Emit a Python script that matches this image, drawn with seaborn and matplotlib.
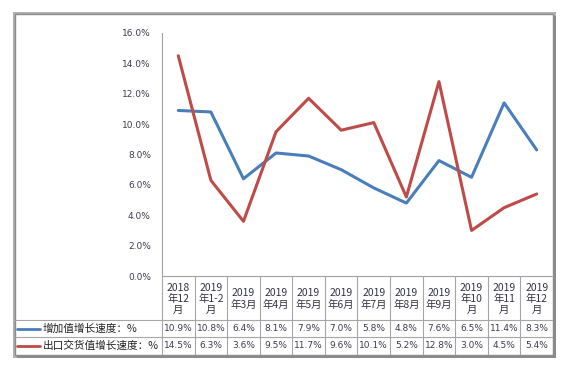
import numpy as np
import pandas as pd
import matplotlib
matplotlib.use("Agg")
import matplotlib.pyplot as plt
import seaborn as sns
from matplotlib.patches import Rectangle

months = ["2018\n年12\n月", "2019\n年1-2\n月", "2019\n年3月", "2019\n年4月", "2019\n年5月",
          "2019\n年6月", "2019\n年7月", "2019\n年8月", "2019\n年9月", "2019\n年10\n月",
          "2019\n年11\n月", "2019\n年12\n月"]
added_value = [10.9, 10.8, 6.4, 8.1, 7.9, 7.0, 5.8, 4.8, 7.6, 6.5, 11.4, 8.3]
export_value = [14.5, 6.3, 3.6, 9.5, 11.7, 9.6, 10.1, 5.2, 12.8, 3.0, 4.5, 5.4]
series_names = ["增加值增长速度：%", "出口交货值增长速度：%"]
colors = ["#4A7EBB", "#BE4B48"]

sns.set_style("white")
plt.rcParams["font.family"] = ["Noto Sans CJK SC", "DejaVu Sans"]

W, H = 567, 372
fig = plt.figure(figsize=(W / 100, H / 100), dpi=100)


def box(x0, y0, x1, y1):
    # pixel box (top-left origin) -> figure fraction
    return [x0 / W, 1 - y1 / H, (x1 - x0) / W, (y1 - y0) / H]


# frame with shadow (behind the axes)
fig.patches.append(Rectangle((13 / W, 1 - 358 / H), 543 / W, 346 / H, transform=fig.transFigure,
                             facecolor="#b0b0b0", edgecolor="none", zorder=-3))
fig.patches.append(Rectangle((17 / W, 1 - 358 / H), 539 / W, 342 / H, transform=fig.transFigure,
                             facecolor="#8a8a8a", edgecolor="none", zorder=-2))
fig.patches.append(Rectangle((15 / W, 1 - 355 / H), 538 / W, 341 / H, transform=fig.transFigure,
                             facecolor="white", edgecolor="#8c8c8c", lw=1, zorder=-1))

x_left, x_right = 162, 553
y_top, y_zero, y_bot = 33, 276, 355
n = len(months)
col_w = (x_right - x_left) / n

df = pd.DataFrame({"x": list(range(n)) * 2,
                   "v": added_value + export_value,
                   "s": [series_names[0]] * n + [series_names[1]] * n})

ax = fig.add_axes(box(x_left, y_top, x_right, y_zero))
ax.set_facecolor("none")
sns.lineplot(data=df, x="x", y="v", hue="s", palette=colors, linewidth=2.2, legend=False, ax=ax)
ax.set_xlim(-0.5, n - 0.5)
ax.set_ylim(0, 16)
ax.set_yticks(np.arange(0, 17, 2))
ax.set_yticklabels([f"{t:.1f}%" for t in np.arange(0, 17, 2)], fontsize=6.5, color="#3d3d4d",
                   family=["DejaVu Sans"])
ax.tick_params(axis="y", length=0, pad=8)
ax.set_xticks([])
ax.set_xlabel("")
ax.set_ylabel("")
for side in ["top", "right"]:
    ax.spines[side].set_visible(False)
ax.spines["left"].set_color("#a0a0a0")
ax.spines["bottom"].set_color("#a0a0a0")
ax.spines["left"].set_linewidth(0.8)
ax.spines["bottom"].set_linewidth(0.8)

# data table
tb = fig.add_axes(box(15, y_zero, x_right, y_bot))
tb.set_facecolor("none")
left_units = -0.5 - (x_left - 15) / col_w
tb.set_xlim(left_units, n - 0.5)
tb.set_ylim(y_bot, y_zero)
tb.axis("off")
grid_c = "#a6a6a6"
row1, row2 = 320, 337
for k in range(n + 1):
    tb.plot([k - 0.5, k - 0.5], [y_zero, y_bot], color=grid_c, lw=0.8)
for yy in [row1, row2]:
    tb.plot([left_units, n - 0.5], [yy, yy], color=grid_c, lw=0.8)

for i, lab in enumerate(months):
    tb.text(i, (y_zero + row1) / 2 + 1, lab, ha="center", va="center", fontsize=7.5,
            color="#333344", linespacing=1.15)
for i in range(n):
    tb.text(i, (row1 + row2) / 2, f"{added_value[i]:.1f}%", ha="center", va="center",
            fontsize=6.5, color="#3d3d4d", family=["DejaVu Sans"])
    tb.text(i, (row2 + y_bot) / 2, f"{export_value[i]:.1f}%", ha="center", va="center",
            fontsize=6.5, color="#3d3d4d", family=["DejaVu Sans"])

lx0 = left_units + 2 / col_w
lx1 = left_units + 25 / col_w
for yy, name, c in [((row1 + row2) / 2, series_names[0], colors[0]),
                    ((row2 + y_bot) / 2, series_names[1], colors[1])]:
    tb.plot([lx0, lx1], [yy, yy], color=c, lw=2)
    tb.text(lx1 + 3 / col_w, yy, name, ha="left", va="center", fontsize=7.7, color="#222222")

fig.savefig("out.png", dpi=100)
